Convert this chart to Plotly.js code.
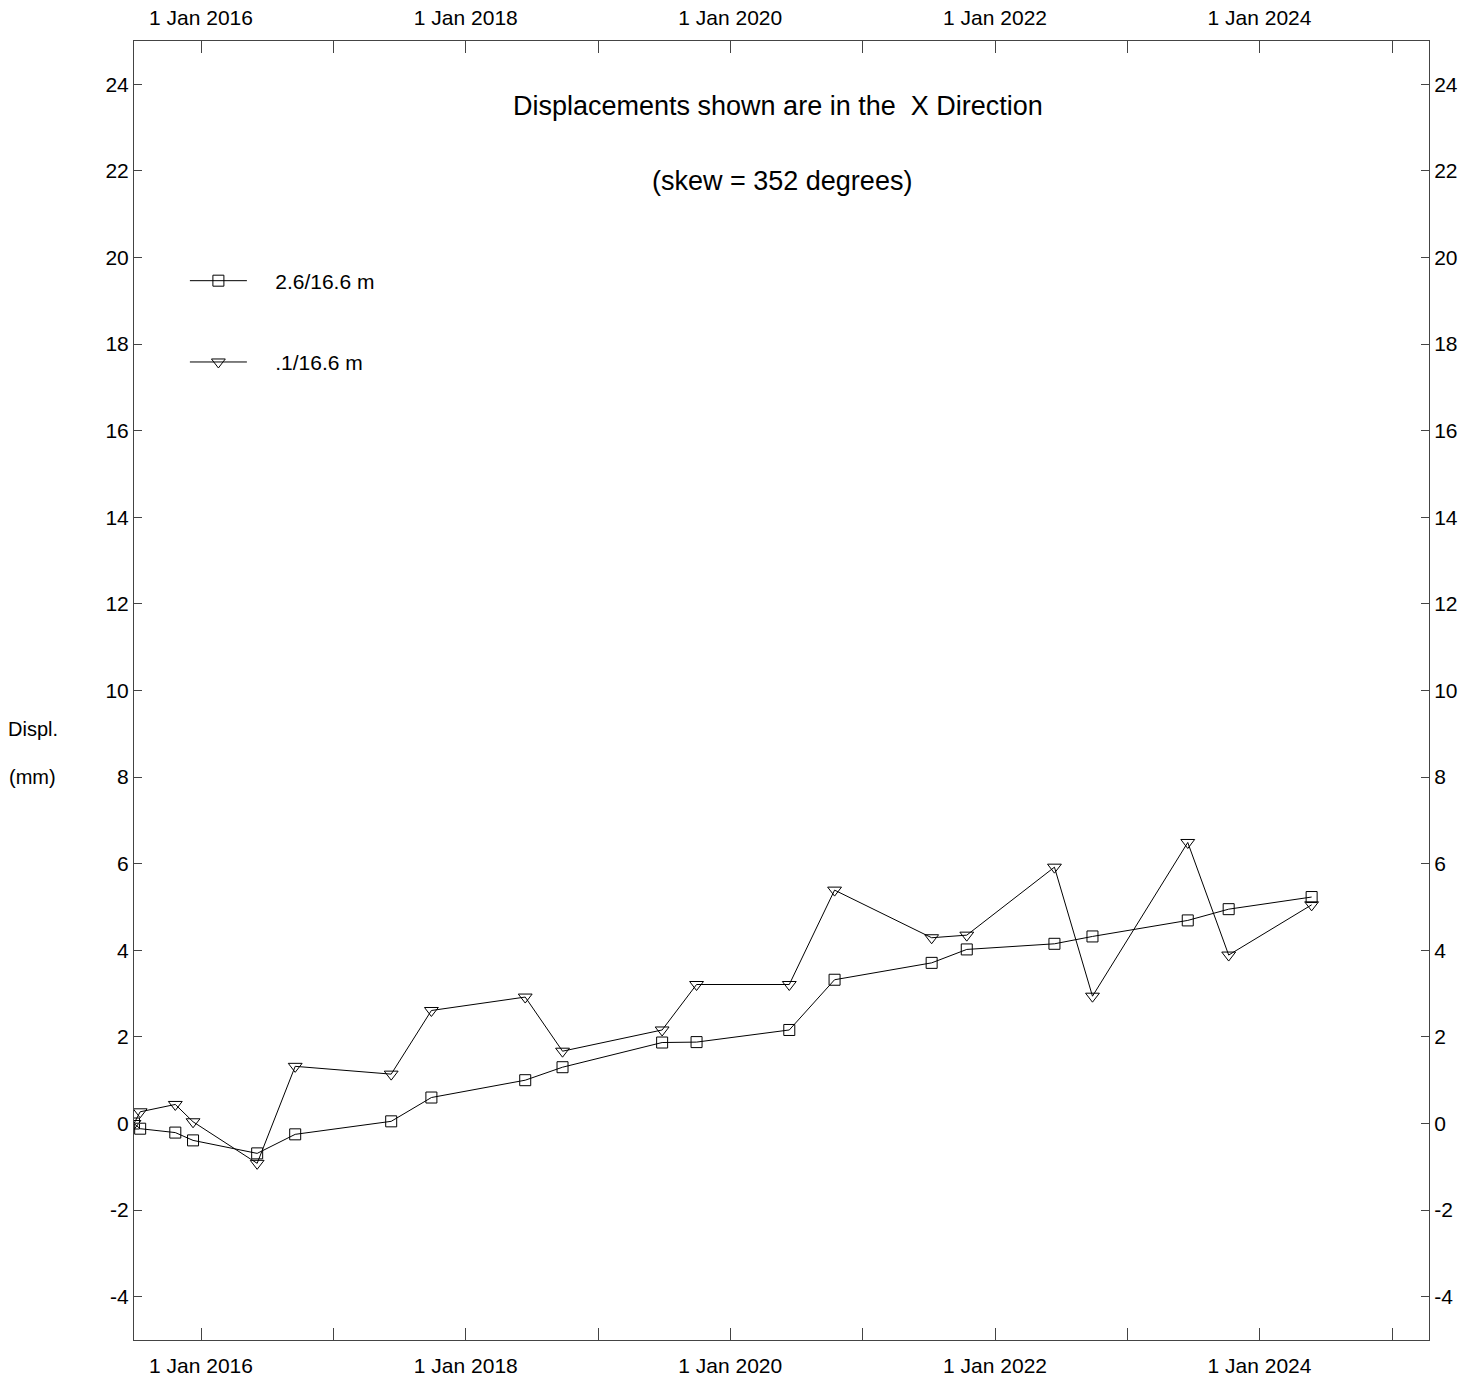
<!DOCTYPE html>
<html>
<head>
<meta charset="utf-8">
<script src="https://cdn.plot.ly/plotly-3.0.1.min.js"></script>
<style>html,body{margin:0;padding:0;background:#fff;}#chart{width:1476px;height:1380px;}</style>
</head>
<body>
<div id="chart"></div>
<script>
const dates = ['2015-06-30','2015-07-17','2015-10-22','2015-12-10','2016-06-04','2016-09-17','2017-06-09','2017-09-28','2018-06-14','2018-09-25','2019-06-27','2019-09-30','2020-06-12','2020-10-15','2021-07-10','2021-10-15','2022-06-14','2022-09-27','2023-06-17','2023-10-08','2024-05-24'];
const series1Name = '2.6/16.6 m';
const series1 = [0.0,-0.12,-0.21,-0.39,-0.69,-0.25,0.05,0.60,1.00,1.30,1.87,1.88,2.16,3.32,3.71,4.02,4.15,4.32,4.69,4.95,5.23];
const series2Name = '.1/16.6 m';
const series2 = [0.0,0.27,0.44,0.04,-0.92,1.32,1.14,2.61,2.92,1.67,2.16,3.21,3.21,5.39,4.29,4.35,5.92,2.94,6.49,3.89,5.05];
const xTickVals = ['2016-01-01','2017-01-01','2018-01-01','2019-01-01','2020-01-01','2021-01-01','2022-01-01','2023-01-01','2024-01-01','2025-01-01'];
const xTickText = ['1 Jan 2016','','1 Jan 2018','','1 Jan 2020','','1 Jan 2022','','1 Jan 2024',''];
const yTickVals = [-4,-2,0,2,4,6,8,10,12,14,16,18,20,22,24];
const yTickText = ['-4','-2','0','2','4','6','8','10','12','14','16','18','20','22','24'];
const xRange = ['2015-06-30','2025-04-13'];
const yRange = [-5,25];
const titleLine1 = 'Displacements shown are in the\u00a0 X Direction';
const titleLine2 = '(skew = 352 degrees)';
const yLabel1 = 'Displ.';
const yLabel2 = '(mm)';

const FONT = 'Liberation Sans, Arial, sans-serif';
const PAD = '\u00a0\u00a0\u00a0\u00a0';
const axisCommon = {
  showgrid:false, zeroline:false, showline:true, linecolor:'#444', linewidth:1,
  ticks:'inside', tickcolor:'#444', tickwidth:1,
  tickfont:{family:FONT, size:21, color:'#000'}, fixedrange:true
};
const traces = [
  {x:dates, y:series1, name:PAD + series1Name, type:'scatter', mode:'lines+markers', legendgroup:'a',
   line:{color:'#000', width:1}, marker:{symbol:'square-open', size:11, color:'#000', line:{width:1,color:'#000'}},
   xaxis:'x', yaxis:'y'},
  {x:dates, y:series2, name:PAD + series2Name, type:'scatter', mode:'lines+markers', legendgroup:'b',
   line:{color:'#000', width:1}, marker:{symbol:'triangle-down-open', size:12, color:'#000', line:{width:1,color:'#000'}},
   xaxis:'x2', yaxis:'y2'}
];
const layout = {
  width:1476, height:1380,
  margin:{l:134, r:47, t:41, b:40},
  paper_bgcolor:'#fff', plot_bgcolor:'#fff',
  font:{family:FONT, size:21, color:'#000'},
  showlegend:true,
  legend:{x:0.0393, y:0.831, xanchor:'left', yanchor:'top', bgcolor:'rgba(0,0,0,0)',
          font:{family:FONT, size:21, color:'#000'}, tracegroupgap:51, itemwidth:57},
  xaxis:Object.assign({}, axisCommon, {type:'date', range:xRange, tickvals:xTickVals, ticktext:xTickText, ticklen:12, side:'bottom', ticklabelstandoff:7}),
  xaxis2:Object.assign({}, axisCommon, {type:'date', range:xRange, tickvals:xTickVals, ticktext:xTickText, ticklen:12, side:'top', overlaying:'x', anchor:'y2', ticklabelstandoff:7}),
  yaxis:Object.assign({}, axisCommon, {range:yRange, tickvals:yTickVals, ticktext:yTickText, ticklen:8, side:'left'}),
  yaxis2:Object.assign({}, axisCommon, {range:yRange, tickvals:yTickVals, ticktext:yTickText, ticklen:8, side:'right', overlaying:'y', anchor:'x2'}),
  annotations:[
    {text:titleLine1, xref:'paper', yref:'paper', x:0.497, y:0.950, xanchor:'center', yanchor:'middle', showarrow:false, font:{family:FONT, size:27, color:'#000'}},
    {text:titleLine2, xref:'paper', yref:'paper', x:0.5, y:0.892, xanchor:'center', yanchor:'middle', showarrow:false, font:{family:FONT, size:27, color:'#000'}},
    {text:yLabel1, xref:'paper', yref:'paper', x:-0.0985, y:0.4705, xanchor:'left', yanchor:'middle', showarrow:false, font:{family:FONT, size:20, color:'#000'}},
    {text:yLabel2, xref:'paper', yref:'paper', x:-0.0978, y:0.4336, xanchor:'left', yanchor:'middle', showarrow:false, font:{family:FONT, size:20, color:'#000'}}
  ]
};
Plotly.newPlot('chart', traces, layout, {displayModeBar:false, staticPlot:true});
</script>
</body>
</html>
